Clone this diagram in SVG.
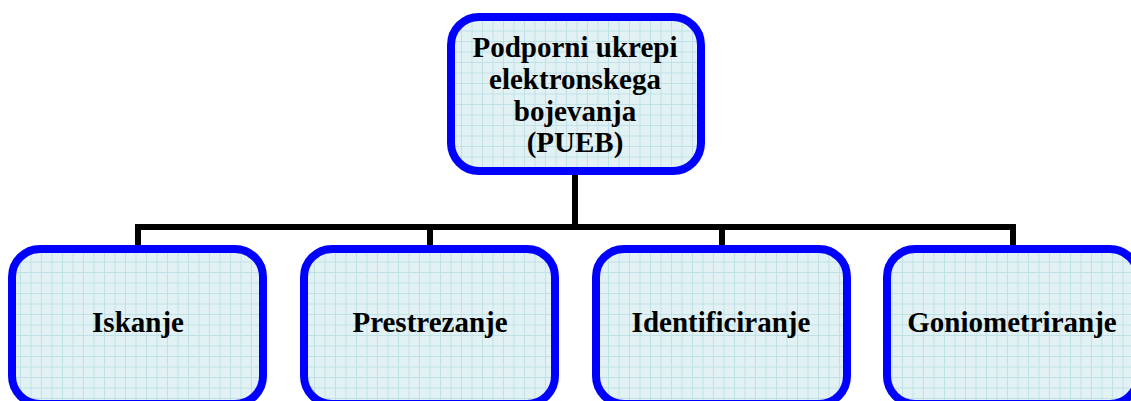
<svg xmlns="http://www.w3.org/2000/svg" width="1131" height="401" viewBox="0 0 1131 401">
  <defs>
    <!-- light graph-paper fill used by every box -->
    <pattern id="grid" width="10.5" height="10.5" patternUnits="userSpaceOnUse">
      <rect width="10.5" height="10.5" fill="#e2f1f4"/>
      <path d="M10 0 V10.5 M0 10 H10.5" stroke="#bfe2e6" stroke-width="1" fill="none"/>
    </pattern>
    <style>
      .box { fill: url(#grid); stroke: #0000ff; stroke-width: 8; }
      .lbl { font-weight: bold; font-size: 29px; fill: #000; text-anchor: middle; }
      .conn { fill: none; stroke: #000; stroke-width: 6; stroke-linejoin: miter; stroke-linecap: butt; }
    </style>
  </defs>

  <g id="connectors">
    <path class="conn" d="M575 175 V227"/>
    <path class="conn" d="M138 245 V227 H1013 V245"/>
    <path class="conn" d="M430 227 V245"/>
    <path class="conn" d="M722 227 V245"/>
  </g>

  <g font-family="'Liberation Serif', 'Times New Roman', 'DejaVu Serif', serif">
    <g id="pueb">
      <rect class="box" x="451" y="17" width="250" height="154" rx="28"/>
      <text class="lbl" x="575" y="57">Podporni ukrepi</text>
      <text class="lbl" x="575" y="89">elektronskega</text>
      <text class="lbl" x="575" y="121">bojevanja</text>
      <text class="lbl" x="575" y="152">(PUEB)</text>
    </g>

    <g id="iskanje">
      <rect class="box" x="12" y="249" width="251" height="155" rx="28"/>
      <text class="lbl" x="138" y="332">Iskanje</text>
    </g>

    <g id="prestrezanje">
      <rect class="box" x="304" y="249" width="251" height="155" rx="28"/>
      <text class="lbl" x="430" y="332">Prestrezanje</text>
    </g>

    <g id="identificiranje">
      <rect class="box" x="596" y="249" width="251" height="155" rx="28"/>
      <text class="lbl" x="721" y="332">Identificiranje</text>
    </g>

    <g id="goniometriranje">
      <rect class="box" x="887" y="249" width="251" height="155" rx="28"/>
      <text class="lbl" x="1012" y="332">Goniometriranje</text>
    </g>
  </g>
</svg>
